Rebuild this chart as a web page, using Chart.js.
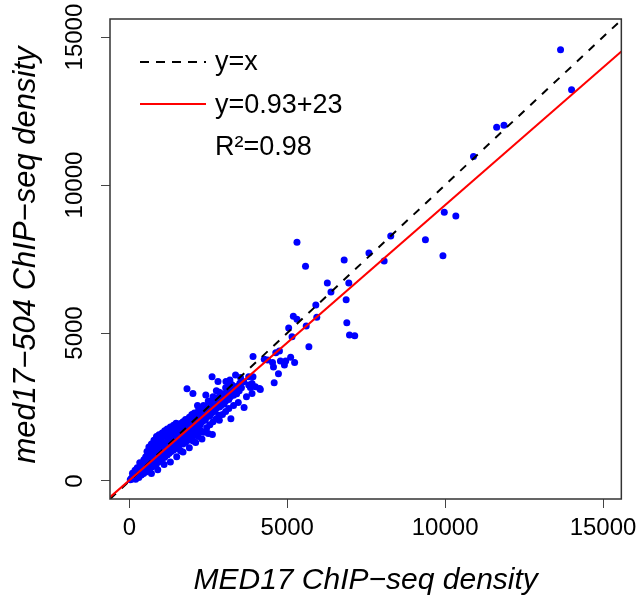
<!DOCTYPE html>
<html>
<head>
<meta charset="utf-8">
<script src="https://cdn.jsdelivr.net/npm/chart.js@4.4.1/dist/chart.umd.min.js"></script>
<style>
  html, body { margin: 0; padding: 0; background: #fff; }
  canvas { display: block; }
</style>
</head>
<body>
<canvas id="chart" width="643" height="601"></canvas>
<script>
// axis ticks and ranges (R style, 4% padding)
const xTicks = [0, 5000, 10000, 15000];
const yTicks = [0, 5000, 10000, 15000];
const xRange = [-612, 15580];
const yRange = [-609, 15610];

// linear fit shown in the legend
const fitSlope = 0.93;
const fitIntercept = 23;
const legendLabels = ['y=x', 'y=0.93+23', 'R²=0.98'];

// [MED17 density, med17-504 density]
const densityPairs = [
  // core near the diagonal
  [30,40],[60,80],[90,70],[110,140],[140,120],[170,190],[190,150],[220,250],[250,210],[270,300],
  [300,260],[320,360],[350,300],[380,400],[410,350],[430,470],[460,400],[490,520],[520,450],[540,580],
  [570,500],[600,640],[630,560],[650,700],[690,610],[710,760],[740,660],[770,820],[800,720],[830,880],
  [860,770],[890,940],[920,830],[950,1000],[980,880],[1010,1060],[1040,940],[1070,1120],[1100,990],[1130,1180],
  [1170,1050],[1200,1240],[1240,1110],[1270,1300],[1310,1170],[1350,1360],[1390,1230],[1430,1420],[1470,1290],[1510,1480],
  [1550,1350],[1600,1540],[1640,1410],[1690,1600],[1740,1480],[1790,1660],[1840,1540],[1890,1720],[1940,1620],[2000,1800],
  // fill between the bands
  [150,200],[200,180],[230,300],[280,240],[320,420],[360,330],[400,480],[440,380],[470,560],[500,420],
  [540,660],[560,480],[600,720],[620,520],[660,780],[680,560],[720,860],[740,600],[780,920],[800,640],
  [840,980],[860,700],[900,1040],[920,740],[960,1100],[990,800],[1020,1180],[1050,840],[1080,1240],[1110,900],
  [1150,1300],[1180,960],[1210,1360],[1240,1020],[1280,1420],[1310,1060],[1340,1480],[1380,1120],[1420,1540],[1450,1180],
  [1490,1600],[1520,1220],[1570,1660],[1600,1280],[1650,1720],[1680,1340],[1720,1800],[1760,1380],[1800,1860],[1830,1440],
  [1880,1900],[1920,1500],[1960,1960],[2000,1560],
  [2050,1700],[2150,1850],[2250,1900],[2300,2000],[2400,2050],[2450,2150],[2550,2200],[2600,2300],[2700,2350],[2750,2450],
  [2850,2500],[2900,2550],[3000,2600],[3050,2700],[3150,2750],[3200,2850],[3300,2900],[3400,2950],[3480,3050],[3550,3150],
  [2100,2100],[2250,2300],[2400,2400],[2550,2550],[2700,2700],[2900,2900],[3100,3100],[2000,2050],[1900,1800],[1800,1700],
  [1700,1650],
  // upper side of the cloud
  [100,260],[180,360],[250,450],[330,620],[400,560],[460,720],[520,820],[600,900],[640,1080],[700,980],
  [760,1150],[820,1240],[880,1380],[950,1300],[1000,1450],[1080,1500],[1150,1600],[1220,1560],[1280,1680],[1350,1640],
  [1420,1760],[1500,1850],[1560,1780],[1620,1940],[1700,2000],[1780,2080],[1850,1950],[1900,2150],[1980,2250],[2060,2300],
  [2120,2200],[2200,2420],[2280,2350],[2350,2550],[2420,2500],[2500,2700],[2580,2640],[2650,2850],[2750,2800],[2850,3000],
  [2950,2950],[3050,3150],[3150,3300],[3250,3250],
  [560,1000],[620,1150],[700,1250],[780,1380],[860,1500],[940,1560],[1040,1620],[1120,1700],[1200,1760],[1300,1820],
  [1400,1880],[1480,1950],
  // lower side of the cloud
  [200,60],[300,120],[380,200],[450,250],[520,300],[600,380],[660,420],[720,480],[780,520],[850,560],
  [920,640],[980,700],[1050,760],[1120,800],[1200,880],[1260,940],[1330,1000],[1400,1050],[1480,1100],[1560,1150],
  [1620,1020],[1700,1250],[1780,1300],[1860,1380],[1950,1440],[2020,1350],[2100,1560],[2180,1500],[2260,1700],[2350,1650],
  [2450,1800],[2550,1900],[2650,2000],[2750,2100],[2850,2050],[2950,2250],[3050,2350],[3150,2450],[3300,2550],[3450,2650],
  [700,250],[900,380],[1100,560],[1300,640],[1500,820],[1700,980],[1900,1120],[2100,1300],[2300,1420],[2500,1600],
  // middle band
  [2050,1900],[2120,2000],[2200,2080],[2280,2150],[2350,2200],[2420,2300],[2500,2350],[2580,2450],[2650,2500],[2720,2580],
  [2800,2650],[2880,2700],[2950,2800],[3020,2850],[3100,2900],[3180,3000],[3260,3050],[3350,3100],[3420,3200],[3500,3300],
  [3580,3350],[3364,3578],[3521,3500],[3624,3351],[3781,3240],[3885,3297],[3991,3182],[4126,3128],
  // scattered points
  [1826,3115],[2014,2959],[2422,2902],[2756,3047],[2159,2553],[2212,2371],[2630,1573],[2159,1718],[2840,2225],[2620,3520],
  [2808,3365],[3059,3365],[3185,3409],[3216,2101],[3634,2486],[3709,2845],[3885,2959],[3834,3162],[4148,3094],[3916,3520],
  [4587,3318],[3781,3520],
  [3917,4210],[4273,4109],[4377,4085],[4534,4007],[4565,3848],[4638,4332],[4754,4390],[4785,4051],[4911,3916],[4952,4051],
  [5108,4177],[5234,4007],[4722,3622],[5686,4535],[5046,5167],[5152,4873],[5193,5563],[5309,5462],[5601,5235],[5905,5945],
  [5936,5529],[6270,6689],[6385,6385],[6950,6689],[6866,6125],[6887,5347],[6972,4931],[7138,4907],[5309,8066],[5579,7254],
  [6803,7467],[7588,7704],[8278,8279],[8069,7433],[9376,8153],[9973,9080],[10339,8955],[9931,7613],[10898,10967],[11632,11955],
  [11864,12019],[13655,14569],[14004,13216]
];

const FONT = '"Liberation Sans", Arial, sans-serif';

// box, rotated y labels, titles and legend
const decorations = {
  id: 'decorations',
  afterDraw(chart) {
    const ctx = chart.ctx;
    const area = chart.chartArea;
    const ys = chart.scales.y;
    ctx.save();

    ctx.strokeStyle = '#333';
    ctx.lineWidth = 1.5;
    ctx.strokeRect(area.left, area.top, area.right - area.left, area.bottom - area.top);

    ctx.fillStyle = '#000';
    ctx.font = '24px ' + FONT;
    ctx.textAlign = 'center';
    ctx.textBaseline = 'alphabetic';
    yTicks.forEach(v => {
      ctx.save();
      ctx.translate(82, ys.getPixelForValue(v));
      ctx.rotate(-Math.PI / 2);
      ctx.fillText(String(v), 0, 0);
      ctx.restore();
    });

    ctx.font = 'italic 30px ' + FONT;
    ctx.fillText('MED17 ChIP\u2212seq density', (area.left + area.right) / 2, 589);
    ctx.font = 'italic 31px ' + FONT;
    ctx.save();
    ctx.translate(35, (area.top + area.bottom) / 2 - 4);
    ctx.rotate(-Math.PI / 2);
    ctx.fillText('med17\u2212504 ChIP\u2212seq density', 0, 0);
    ctx.restore();

    // legend
    ctx.lineWidth = 2;
    ctx.strokeStyle = '#000';
    ctx.setLineDash([9, 7]);
    ctx.beginPath(); ctx.moveTo(140, 62); ctx.lineTo(206, 62); ctx.stroke();
    ctx.setLineDash([]);
    ctx.strokeStyle = '#ff0000';
    ctx.beginPath(); ctx.moveTo(140, 104); ctx.lineTo(206, 104); ctx.stroke();
    ctx.font = '27px ' + FONT;
    ctx.textAlign = 'left';
    [70, 113, 155].forEach((y, i) => ctx.fillText(legendLabels[i], 215, y));

    ctx.restore();
  }
};

new Chart(document.getElementById('chart'), {
  type: 'scatter',
  data: {
    datasets: [
      {
        label: 'fit',
        data: xRange.map(x => ({ x: x, y: fitSlope * x + fitIntercept })),
        showLine: true,
        borderColor: '#ff0000',
        borderWidth: 2,
        pointRadius: 0,
        order: 0
      },
      {
        label: 'y=x',
        data: xRange.map(x => ({ x: x, y: x })),
        showLine: true,
        borderColor: '#000',
        borderWidth: 2,
        borderDash: [8, 8],
        pointRadius: 0,
        order: 1
      },
      {
        label: 'genes',
        data: densityPairs.map(p => ({ x: p[0], y: p[1] })),
        backgroundColor: '#0000ff',
        borderWidth: 0,
        pointRadius: 3.5,
        order: 2
      }
    ]
  },
  options: {
    responsive: false,
    animation: false,
    layout: { padding: { top: 19, right: 17, left: 0, bottom: 0 } },
    plugins: { legend: { display: false }, tooltip: { enabled: false } },
    scales: {
      x: {
        type: 'linear',
        min: xRange[0],
        max: xRange[1],
        afterBuildTicks: s => { s.ticks = xTicks.map(v => ({ value: v })); },
        afterFit: s => { s.height = 102; },
        border: { display: false },
        grid: { drawOnChartArea: false, tickLength: 9, color: '#444' },
        ticks: { font: { size: 24, family: FONT }, color: '#000', padding: 6, maxRotation: 0, callback: v => String(v) }
      },
      y: {
        type: 'linear',
        min: yRange[0],
        max: yRange[1],
        afterBuildTicks: s => { s.ticks = yTicks.map(v => ({ value: v })); },
        afterFit: s => { s.width = 110; },
        border: { display: false },
        grid: { drawOnChartArea: false, tickLength: 9, color: '#444' },
        ticks: { display: false }
      }
    }
  },
  plugins: [decorations]
});
</script>
</body>
</html>
